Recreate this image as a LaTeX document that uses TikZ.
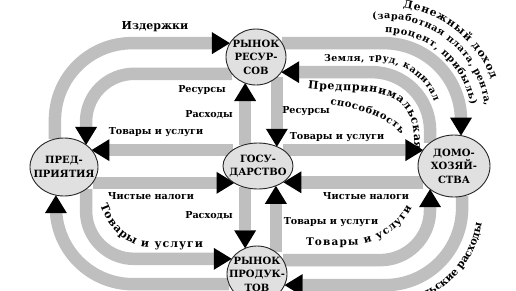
\documentclass[tikz,border=0pt]{standalone}
\usepackage{fontspec}
\setmainfont{DejaVu Serif}
\usetikzlibrary{shapes.geometric,arrows.meta,decorations.text}
\pgfdeclarelayer{bands}
\pgfsetlayers{bands,main}
\definecolor{bandgray}{gray}{0.75}
\definecolor{nodegray}{gray}{0.88}
\newcommand\nodefont{\fontsize{10}{13.5}\selectfont\bfseries}
\newcommand\lblfont{\fontsize{9.6}{11}\selectfont\bfseries}
\newcommand\fA{\fontsize{11}{13}\selectfont\bfseries}
\newcommand\fTa{\fontsize{10.8}{12}\selectfont\bfseries}
\newcommand\fTb{\fontsize{9.6}{12}\selectfont\bfseries}
\newcommand\fTc{\fontsize{9.8}{12}\selectfont\bfseries}
\newcommand\fTd{\fontsize{9.5}{12}\selectfont\bfseries}
\newcommand\fTe{\fontsize{11}{12}\selectfont\bfseries}
\newcommand\fC{\fontsize{10}{12}\selectfont\bfseries}
\newcommand\fD{\fontsize{11}{13}\selectfont\bfseries}
\newcommand\fE{\fontsize{10.5}{13}\selectfont\bfseries}
\newcommand\fF{\fontsize{10.5}{13}\selectfont\bfseries}
\begin{document}
\begin{tikzpicture}[x=1pt,y=1pt,
  band/.style={draw=bandgray,line width=12.5pt},
  flow/.style={band,-{Triangle[length=18pt,width=22pt,line width=0pt,color=black,fill=black]}},
  market/.style={ellipse,draw=black!85,line width=0.9pt,fill=nodegray,inner sep=-10pt,outer sep=0pt,align=center,font=\nodefont},
  lbl/.style={font=\lblfont,inner sep=0pt}]
\useasboundingbox (0,0) rectangle (516,-290);
\clip (0,0) rectangle (516,-290);

% markets and sectors
\node[market,minimum width=60pt,minimum height=56pt] (RR) at (256,-57) {РЫНОК\\РЕСУР-\\СОВ};
\node[market,minimum width=70pt,minimum height=46pt] (G) at (258,-166) {ГОСУ-\\ДАРСТВО};
\node[market,minimum width=68pt,minimum height=58pt] (P) at (64,-167) {ПРЕД-\\ПРИЯТИЯ};
\node[market,minimum width=72pt,minimum height=62pt] (H) at (454,-166) {ДОМО-\\ХОЗЯЙ-\\СТВА};
\node[market,minimum width=60pt,minimum height=56pt] (RP) at (257,-274) {РЫНОК\\ПРОДУК-\\ТОВ};

% flows
\begin{pgfonlayer}{bands}
\draw[flow,rounded corners=77pt] (P.108) |- (RR.152);
\draw[flow,rounded corners=48pt] (RR.215) -| (P.45);
\draw[flow,rounded corners=77pt] (RR.28) -| (H.77);
\draw[flow,rounded corners=58pt] (H.136) |- (RR.329);
\draw[flow] (G.121) -- (G.121 |- RR.247);
\draw[flow] (RR.316) -- (RR.316 |- G.45);
\draw[flow] (G.148) -- (G.148 -| P.32);
\draw[flow] (P.331) -- (P.331 -| G.216);
\draw[flow] (G.32) -- (G.32 -| H.152);
\draw[flow] (H.208) -- (H.208 -| G.328);
\draw[flow] (G.239) -- (G.239 |- RP.115);
\draw[flow] (RP.49) -- (RP.49 |- G.312);
\draw[flow,rounded corners=48pt] (P.315) |- (RP.149);
\draw[flow,rounded corners=77pt] (RP.200) -| (P.254);
\draw[flow,rounded corners=50pt] (RP.28) -| (H.224);
\draw[flow,rounded corners=77pt] (H.285) |- (RP.338);
\end{pgfonlayer}

% straight labels
\node[lbl,font=\fA] (l1) at (155,-27) {Издержки};
\node[lbl] (l2) at (202,-90) {Ресурсы};
\node[lbl] (l3) at (209,-115) {Расходы};
\node[lbl] (l4) at (156,-132) {Товары и услуги};
\node[lbl] (l5) at (306,-111) {Ресурсы};
\node[lbl] (l6) at (337,-137) {Товары и услуги};
\node[lbl] (l7) at (151,-196) {Чистые налоги};
\node[lbl] (l8) at (366,-196) {Чистые налоги};
\node[lbl] (l9) at (209,-216) {Расходы};
\node[lbl] (l10) at (331,-222) {Товары и услуги};

% curved labels
\coordinate (ctrA) at (385,-120);
\coordinate (ctrB) at (150,-175);
\coordinate (ctrD) at (385,-208);
\path[decorate,decoration={text along path,text={|\fTa|Денежный доход},text align={fit to path}}]
  ([shift={(81:114pt)}]ctrA) arc[start angle=81,end angle=21,radius=114pt];
\path[decorate,decoration={text along path,text={|\fTb|(заработная плата, рента,},text align={fit to path}}]
  ([shift={(97:101pt)}]ctrA) arc[start angle=97,end angle=8,radius=101pt];
\path[decorate,decoration={text along path,text={|\fTc|процент, прибыль)},text align={fit to path}}]
  ([shift={(90:87pt)}]ctrA) arc[start angle=90,end angle=10,radius=87pt];
\path[decorate,decoration={text along path,text={|\fTd|Земля, труд, капитал},text align={fit to path}}]
  (324,-61) -- (376,-61) arc[start angle=90,end angle=20,radius=62pt];
\path[decorate,decoration={text along path,text={|\fTe|Предпринимальская},text align={fit to path}}]
  (308,-88) .. controls (362,-95) and (418,-78) .. (414,-150);
\path[decorate,decoration={text along path,text={|\fC|способность},text align={fit to path}}]
  (330,-104) .. controls (356,-109) and (385,-115) .. (401,-134);
\path[decorate,decoration={text along path,text={|\fD|Товары и услуги},text align={fit to path}}]
  ([shift={(205:55pt and 72pt)}]ctrB) arc[start angle=205,end angle=270,x radius=55pt,y radius=72pt] -- (203,-247);
\path[decorate,decoration={text along path,text={|\fE|Товары и услуги},text align={fit to path}}]
  (306,-245) -- (350,-245) arc[start angle=-90,end angle=-28,radius=70pt];
\path[decorate,decoration={text along path,text={|\fF|Потребительские расходы},text align=right}]
  ([shift={(-140:98pt)}]ctrD) arc[start angle=-140,end angle=-9,radius=98pt];
\end{tikzpicture}
\end{document}
